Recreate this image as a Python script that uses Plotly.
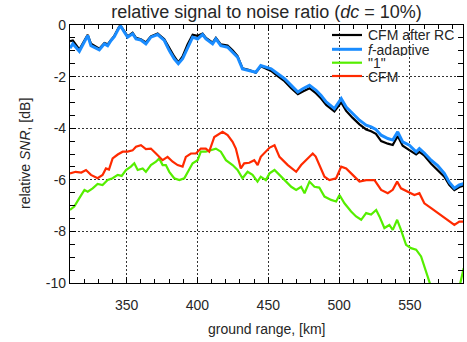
import plotly.graph_objects as go

# ---- data ----
x_rc = [310, 312, 316.6, 322.5, 324.8, 330.7, 334.3, 336.6, 339, 341.3,
        344.8, 346, 348.4, 350.7, 354.2, 356.6, 360, 363.6, 367.1, 371.9,
        376.6, 380.1, 383.6, 386.5, 389.5, 393, 396.6, 400.1, 403.6, 406,
        410.7, 413, 416.5, 421.3, 424.8, 428.3, 431.8, 436.6, 441.2, 444.7,
        448.3, 452, 456.7, 461.5, 466.2, 470.9, 474.4, 479.1, 483.8, 487.3,
        490.9, 496.7, 501.5, 505, 509.6, 514.4, 519.1, 522.6, 526, 529.7,
        534.4, 537.9, 541.4, 544.9, 549.6, 554.4, 556.7, 560, 565, 569.6,
        574.3, 577.9, 581.4, 584.9, 588]
cfm_after_rc = [-0.63, -0.60, -0.95, -0.38, -0.72, -0.92, -0.70, -0.75, -0.58, -0.42,
                -0.06, -0.05, -0.25, -0.44, -0.30, -0.50, -0.55, -0.68, -0.44, -0.33,
                -0.55, -0.90, -1.22, -1.45, -1.22, -0.75, -0.38, -0.42, -0.33, -0.50,
                -0.68, -0.50, -0.75, -0.80, -0.98, -1.20, -1.68, -1.75, -1.85, -1.60,
                -1.68, -1.78, -1.98, -2.18, -2.45, -2.68, -2.58, -2.45, -2.65, -2.85,
                -3.10, -3.35, -3.00, -3.33, -3.60, -3.85, -4.05, -4.12, -4.22, -4.50,
                -4.60, -4.65, -4.30, -4.68, -4.85, -5.02, -4.92, -5.05, -5.38, -5.62,
                -5.88, -6.20, -6.40, -6.28, -6.22]

x_fad = x_rc
f_adaptive = [-0.90, -0.73, -1.02, -0.41, -0.80, -0.96, -0.73, -0.80, -0.60, -0.45,
              -0.09, -0.06, -0.28, -0.47, -0.34, -0.54, -0.58, -0.73, -0.47, -0.37,
              -0.60, -0.99, -1.31, -1.50, -1.31, -0.86, -0.47, -0.54, -0.37, -0.54,
              -0.73, -0.54, -0.80, -0.86, -1.05, -1.25, -1.70, -1.76, -1.83, -1.57,
              -1.63, -1.70, -1.89, -2.08, -2.34, -2.60, -2.47, -2.34, -2.53, -2.73,
              -2.98, -3.24, -2.85, -3.18, -3.43, -3.69, -3.88, -3.95, -4.05, -4.27,
              -4.40, -4.46, -4.14, -4.53, -4.66, -4.92, -4.79, -4.95, -5.24, -5.45,
              -5.75, -6.10, -6.33, -6.20, -6.15]

x_one = [310, 313, 316.6, 320.2, 322.5, 326, 329.5, 333, 336.6, 340.1,
         343.7, 346.5, 349.5, 353, 355.4, 357.8, 361.3, 363.6, 367.1, 370.7,
         373, 375.4, 377.7, 380.1, 383.6, 387.2, 390.7, 393, 396.6, 400.1,
         402.4, 405.9, 409.5, 413, 416.5, 420.1, 424.8, 428.3, 431.8, 435.4,
         438.9, 442.4, 444.7, 448.3, 450.9, 454.4, 457.9, 461.5, 466.2, 469.7,
         473.2, 475.6, 479.1, 482.6, 486, 489.7, 494.4, 497.9, 500.3, 503.8,
         508.5, 512, 515.6, 519.1, 522.6, 526.2, 528.5, 532, 535.5, 537.9,
         541, 543.7, 547.3, 550.8, 554.4, 557.9, 561.4, 564, 570, 576,
         582, 585.6, 588]
one = [-7.17, -7.04, -6.71, -6.39, -6.46, -6.33, -6.16, -6.20, -6.01, -5.94,
       -5.81, -5.85, -5.62, -5.49, -5.36, -5.62, -5.56, -5.69, -5.43, -5.30,
       -5.17, -5.43, -5.43, -5.69, -5.94, -6.01, -5.94, -5.69, -5.36, -5.24,
       -4.91, -4.91, -4.85, -4.79, -4.91, -5.24, -5.43, -5.62, -5.94, -5.69,
       -5.81, -6.07, -5.88, -6.01, -5.75, -5.62, -5.81, -6.01, -6.27, -6.39,
       -6.27, -6.52, -6.07, -6.27, -6.30, -6.65, -6.78, -6.84, -6.59, -6.91,
       -7.23, -7.42, -7.55, -7.29, -7.35, -7.17, -7.42, -7.87, -7.75, -7.94,
       -7.55, -7.94, -8.52, -8.65, -8.71, -8.97, -9.61, -10.1, -11.0, -11.3,
       -10.9, -10.0, -9.42]

x_cfm = [310, 314, 318, 321.3, 324.8, 329.5, 333, 335.4, 337.5, 340.1,
         343.7, 347.2, 350.7, 354.2, 356.6, 360.1, 363.6, 367.1, 370.7, 375.4,
         378.9, 382.5, 386, 389.5, 391.8, 395.4, 398.9, 402.4, 405.9, 408.3,
         411.9, 415.4, 417.7, 421.3, 424.8, 427.1, 430.6, 433, 436.6, 440.1,
         442.5, 444.7, 448.3, 451, 454.4, 457.9, 463.8, 469.7, 473.2, 477.9,
         481.4, 483.5, 486.2, 489.7, 493.2, 497.9, 501.5, 505, 509.6, 514.4,
         519.1, 525, 529.7, 534.4, 537.9, 541, 543.7, 548.5, 553.2, 556.7,
         560.2, 565, 569.6, 574.3, 577.9, 581.4, 584.9, 588]
cfm = [-5.75, -5.69, -5.72, -5.62, -5.81, -5.94, -5.81, -5.56, -5.60, -5.17,
       -5.02, -4.91, -4.91, -4.86, -4.72, -4.66, -4.81, -4.79, -4.98, -5.24,
       -5.11, -5.30, -5.43, -5.49, -5.11, -4.98, -4.98, -4.79, -4.79, -4.91,
       -4.34, -4.21, -4.14, -4.27, -4.53, -4.79, -5.56, -5.36, -5.34, -5.24,
       -5.43, -5.11, -4.91, -4.75, -4.66, -5.11, -5.43, -5.69, -5.43, -5.17,
       -4.98, -5.10, -5.43, -5.88, -6.01, -5.94, -5.49, -5.56, -5.81, -6.07,
       -6.01, -6.01, -6.39, -6.52, -6.39, -6.07, -6.33, -6.46, -6.59, -6.52,
       -6.91, -7.10, -7.29, -7.49, -7.62, -7.75, -7.62, -7.62]

series_names = ["CFM after RC", "<i>f</i>-adaptive", "\"1\"", "CFM"]
series_colors = ["#000000", "#1a8cff", "#55ee00", "#ff2a00"]
series_widths = [2.2, 3.0, 2.2, 2.2]

x_ticks = [350, 400, 450, 500, 550]
y_ticks = [0, -2, -4, -6, -8, -10]

FONT = "Liberation Sans, Arial, Helvetica, sans-serif"
TXT = "#262626"

fig = go.Figure()
for xs, ys, nm, col, w in zip([x_rc, x_fad, x_one, x_cfm],
                              [cfm_after_rc, f_adaptive, one, cfm],
                              series_names, series_colors, series_widths):
    fig.add_trace(go.Scatter(x=xs, y=ys, mode="lines", name=nm,
                             line=dict(color=col, width=w), showlegend=False))

axis_common = dict(
    showline=True, linecolor="black", linewidth=1.2, mirror="ticks",
    ticks="inside", ticklen=6, tickcolor="black", tickwidth=1,
    showgrid=True, gridcolor="#333333", gridwidth=1, griddash="2px,2px",
    zeroline=False,
    tickfont=dict(family=FONT, size=14, color=TXT),
)

fig.update_xaxes(range=[310, 587.5], tickvals=x_ticks, ticktext=[str(v) for v in x_ticks],
                 minor=dict(dtick=10, tick0=300, ticks="inside", ticklen=4,
                            tickcolor="black", showgrid=False),
                 ticklabelstandoff=9, **axis_common)
fig.update_yaxes(range=[-10, 0], tickvals=y_ticks, ticktext=[str(v) for v in y_ticks],
                 minor=dict(dtick=0.5, tick0=0, ticks="inside", ticklen=5,
                            tickcolor="black", showgrid=False),
                 **axis_common)

# compact legend (key lines + labels) in the upper right of the plot area
PLOT_W, PLOT_H = 393.0, 258.0
leg_rows_px = [35, 49.3, 62.7, 76]
shapes = []
annotations = []
for row, nm, col, w in zip(leg_rows_px, series_names, series_colors, series_widths):
    yp = (283.0 - row) / PLOT_H
    shapes.append(dict(type="line", xref="paper", yref="paper",
                       x0=(332 - 70) / PLOT_W, x1=(362 - 70) / PLOT_W, y0=yp, y1=yp,
                       line=dict(color=col, width=w)))
    annotations.append(dict(text=nm, xref="paper", yref="paper",
                            x=(367 - 70) / PLOT_W, y=yp, xanchor="left", yanchor="middle",
                            height=13, valign="middle", borderpad=0,
                            showarrow=False, font=dict(family=FONT, size=14, color=TXT)))

annotations += [
    dict(text="relative <i>SNR</i>, [dB]", xref="paper", yref="paper",
         x=-(70 - 25) / PLOT_W, y=0.5, xanchor="center", yanchor="middle",
         textangle=-90, showarrow=False,
         font=dict(family=FONT, size=14, color=TXT)),
    dict(text="ground range, [km]", xref="paper", yref="paper",
         x=0.5, y=(283.0 - 329) / PLOT_H, xanchor="center", yanchor="middle",
         showarrow=False, font=dict(family=FONT, size=14, color=TXT)),
]

fig.update_layout(
    width=467, height=342,
    margin=dict(l=70, r=4, t=25, b=59),
    paper_bgcolor="white", plot_bgcolor="white",
    font=dict(family=FONT, size=14, color=TXT),
    title=dict(text="relative signal to noise ratio (<i>dc</i> = 10%)",
               x=0.5, xref="paper", xanchor="center",
               y=1 - 12 / 342, yref="container", yanchor="middle",
               font=dict(family=FONT, size=18, color=TXT)),
    showlegend=False,
    shapes=shapes,
    annotations=annotations,
)

fig.write_html("out.html",
               config={"displayModeBar": False},
               post_script="document.body.style.margin='0px';document.body.style.padding='0px';")
